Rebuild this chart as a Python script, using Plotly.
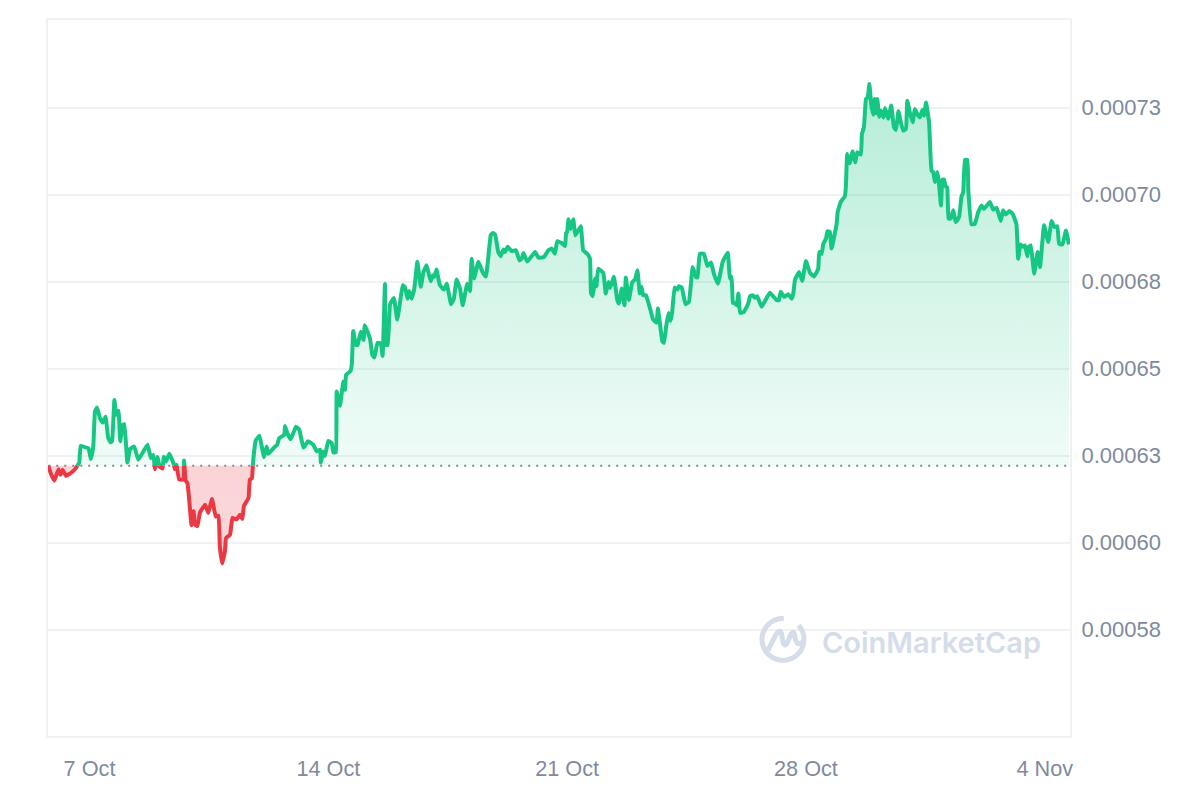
import numpy as np
import pandas as pd
import plotly.graph_objects as go

# Day of October (32 = 1 Nov) and price in millionths
days = [
    5.79, 5.86, 5.97, 6.09, 6.15, 6.21, 6.31, 6.48, 6.60, 6.70, 6.74, 6.87, 6.97, 7.04, 7.11, 7.16,
    7.22, 7.31, 7.39, 7.47, 7.55, 7.62, 7.66, 7.73, 7.78, 7.85, 7.90, 7.97, 8.02, 8.11, 8.19, 8.31,
    8.43, 8.58, 8.70, 8.80, 8.87, 8.92, 8.99, 9.05, 9.14, 9.18, 9.24, 9.34, 9.46, 9.50, 9.55, 9.63,
    9.75, 9.77, 9.82, 9.87, 9.93, 9.99, 10.05, 10.09, 10.16, 10.24, 10.39, 10.48, 10.59, 10.70,
    10.78, 10.82, 10.89, 10.97, 11.00, 11.12, 11.19, 11.31, 11.41, 11.48, 11.53, 11.66, 11.70, 11.76,
    11.80, 11.87, 11.98, 12.05, 12.11, 12.19, 12.24, 12.39, 12.50, 12.56, 12.71, 12.73, 12.80, 12.90,
    13.05, 13.15, 13.27, 13.41, 13.56, 13.66, 13.76, 13.78, 13.85, 13.90, 14.00, 14.10, 14.15, 14.22,
    14.245, 14.34, 14.44, 14.49, 14.52, 14.65, 14.69, 14.73, 14.81, 14.86, 14.95, 15.03, 15.07, 15.22,
    15.29, 15.35, 15.44, 15.54, 15.59, 15.66, 15.69, 15.74, 15.81, 15.92, 16.02, 16.10, 16.18, 16.25,
    16.32, 16.37, 16.44, 16.52, 16.61, 16.71, 16.79, 16.88, 17.00, 17.06, 17.11, 17.17, 17.27, 17.39,
    17.47, 17.60, 17.68, 17.76, 17.86, 17.94, 18.07, 18.15, 18.20, 18.27, 18.40, 18.52, 18.62, 18.76,
    18.82, 18.89, 18.98, 19.05, 19.13, 19.18, 19.26, 19.37, 19.50, 19.60, 19.67, 19.72, 19.83, 20.06,
    20.16, 20.32, 20.45, 20.55, 20.64, 20.71, 20.84, 20.94, 20.97, 21.00, 21.04, 21.10, 21.18, 21.24,
    21.40, 21.47, 21.59, 21.67, 21.70, 21.75, 21.82, 21.86, 21.91, 22.06, 22.13, 22.21, 22.26, 22.37,
    22.47, 22.52, 22.60, 22.68, 22.72, 22.81, 22.91, 22.99, 23.06, 23.13, 23.18, 23.23, 23.31, 23.43,
    23.52, 23.62, 23.66, 23.72, 23.79, 23.84, 23.90, 23.97, 24.03, 24.08, 24.15, 24.23, 24.28, 24.36,
    24.47, 24.57, 24.68, 24.78, 24.82, 24.89, 25.01, 25.11, 25.22, 25.30, 25.42, 25.56, 25.71, 25.77,
    25.82, 25.86, 25.93, 25.97, 26.02, 26.07, 26.18, 26.31, 26.36, 26.44, 26.50, 26.57, 26.70, 26.94,
    27.14, 27.21, 27.26, 27.36, 27.48, 27.58, 27.63, 27.68, 27.80, 27.89, 28.00, 28.12, 28.24, 28.36,
    28.39, 28.46, 28.51, 28.59, 28.63, 28.70, 28.75, 28.90, 28.93, 29.02, 29.14, 29.17, 29.21, 29.29,
    29.37, 29.45, 29.50, 29.61, 29.64, 29.70, 29.76, 29.81, 29.86, 29.91, 29.97, 30.01, 30.05, 30.09,
    30.15, 30.20, 30.27, 30.32, 30.41, 30.50, 30.58, 30.64, 30.71, 30.77, 30.85, 30.93, 30.97, 31.05,
    31.13, 31.19, 31.29, 31.34, 31.41, 31.46, 31.52, 31.61, 31.68, 31.73, 31.78, 31.85, 31.89, 31.96,
    32.00, 32.05, 32.09, 32.14, 32.18, 32.24, 32.32, 32.39, 32.49, 32.56, 32.61, 32.66, 32.73, 32.76,
    32.85, 32.95, 33.05, 33.15, 33.22, 33.39, 33.49, 33.59, 33.71, 33.78, 33.86, 33.96, 34.06, 34.17,
    34.22, 34.29, 34.37, 34.42, 34.49, 34.53, 34.59, 34.69, 34.79, 34.86, 34.98, 35.10, 35.20, 35.28,
    35.37, 35.42, 35.52, 35.62, 35.71,
]
price_micro = [
    622.1, 620.0, 617.8, 621.1, 619.5, 620.9, 619.2, 620.2, 621.4, 623.0, 627.8, 627.4, 627.1, 624.0, 627.6, 637.7,
    638.8, 635.7, 634.5, 636.2, 630.0, 628.8, 629.1, 641.0, 636.7, 637.9, 629.1, 633.8, 634.0, 623.0, 626.9, 627.6,
    623.8, 626.2, 628.1, 624.3, 625.2, 621.1, 624.6, 621.9, 621.3, 624.7, 623.3, 625.5, 622.8, 621.1, 622.4, 618.1,
    618.1, 623.6, 617.8, 617.1, 611.4, 605.0, 609.0, 605.2, 604.7, 608.7, 610.9, 608.5, 612.5, 607.5,
    607.7, 598.9, 594.0, 597.5, 601.3, 602.3, 607.1, 606.6, 608.0, 606.8, 610.6, 612.8, 618.1, 618.5,
    623.8, 629.3, 630.7, 627.6, 624.5, 627.6, 625.5, 627.1, 628.1, 630.0, 631.0, 633.5, 631.4, 629.7,
    633.3, 632.4, 627.3, 629.1, 628.1, 626.2, 626.7, 623.0, 626.2, 624.9, 629.2, 628.6, 625.9, 625.9,
    643.4, 639.3, 646.3, 643.9, 648.2, 649.3, 651.5, 660.8, 656.8, 656.8, 660.6, 658.2, 662.5, 658.7,
    653.9, 653.2, 657.4, 657.2, 653.6, 674.3, 656.8, 656.8, 668.5, 670.3, 664.1, 668.9, 674.0, 673.3,
    670.1, 672.3, 670.1, 673.0, 680.7, 673.5, 677.8, 679.7, 675.1, 676.8, 676.4, 678.5, 674.0, 672.7,
    674.4, 668.5, 670.1, 675.6, 673.0, 668.2, 674.4, 672.3, 681.6, 675.9, 680.7, 677.8, 676.5, 688.3,
    689.0, 688.5, 683.5, 682.3, 684.2, 683.5, 685.0, 683.8, 684.0, 681.1, 681.6, 683.2, 680.8, 683.5,
    681.9, 682.1, 684.0, 684.5, 683.0, 686.6, 686.1, 685.2, 689.0, 689.3, 692.9, 690.2, 692.9, 688.3,
    690.9, 684.0, 683.0, 681.6, 671.6, 670.8, 675.9, 673.7, 678.7, 677.5, 671.6, 674.9, 673.2, 676.4,
    669.7, 668.7, 673.0, 668.2, 676.2, 669.7, 674.9, 675.6, 678.3, 671.6, 673.5, 671.1, 671.1, 667.3,
    664.1, 663.2, 667.3, 663.0, 657.9, 657.4, 662.0, 666.0, 663.7, 666.3, 673.3, 672.7, 673.7, 673.3,
    668.5, 669.2, 679.2, 676.2, 676.2, 683.0, 683.0, 679.5, 680.5, 677.3, 674.4, 680.7, 683.3, 675.9,
    676.4, 668.9, 668.7, 668.2, 671.6, 666.0, 666.3, 668.7, 670.8, 671.1, 670.4, 670.8, 667.8, 671.8,
    669.7, 669.7, 672.1, 670.6, 671.4, 670.1, 671.6, 675.6, 677.8, 675.2, 680.9, 677.5, 676.5, 678.7,
    683.5, 683.0, 685.9, 687.4, 689.5, 689.3, 684.5, 691.6, 695.0, 697.9, 699.5, 702.2, 711.7, 709.0,
    712.5, 709.3, 712.2, 711.5, 717.4, 719.4, 727.5, 727.9, 731.8, 726.1, 723.0, 727.5, 723.4, 727.5,
    722.4, 724.1, 722.2, 724.9, 721.8, 725.6, 719.4, 718.6, 724.0, 721.3, 718.4, 718.9, 727.0, 723.4,
    720.8, 724.6, 722.7, 722.2, 724.3, 722.7, 726.5, 720.8, 706.9, 706.5, 703.6, 706.5, 704.1, 696.9,
    704.3, 704.3, 702.4, 702.1, 693.1, 693.1, 695.5, 692.1, 693.6, 699.5, 700.7, 710.0, 710.0, 701.2,
    691.5, 691.6, 695.0, 696.9, 695.9, 697.9, 695.7, 696.2, 692.4, 695.5, 694.3, 695.3, 694.5, 691.5,
    681.6, 685.7, 685.0, 685.4, 682.3, 685.0, 685.4, 677.3, 683.5, 679.2, 691.2, 686.4, 692.4, 690.7,
    690.9, 685.9, 685.7, 689.7, 685.7,
]
baseline_micro = 622.1

tick_days = [7, 14, 21, 28, 35]
tick_dates = ["7 Oct", "14 Oct", "21 Oct", "28 Oct", "4 Nov"]
price_ticks_micro = [575, 600, 625, 650, 675, 700, 725]
price_labels = ["0.00058", "0.00060", "0.00063", "0.00065", "0.00068", "0.00070", "0.00073"]

GREEN = "#16c784"
RED = "#ea3943"
GRID = "#eff2f5"
TICK_TEXT = "#808a9d"
LOGO = "#d5dde9"
FONT = "Liberation Sans"

# Plot box as seen in the window; the page body adds an 8px margin
L, R, T, B = 48, 1070, 17.5, 736
PAGE_MARGIN = 8


def to_time(d):
    return pd.Timestamp("2024-09-30") + pd.to_timedelta(np.asarray(d, dtype=float), unit="D")


def split_at_baseline(d, p, base):
    """Add a vertex wherever the price crosses the baseline, so colours change on it."""
    out_d, out_p = [d[0]], [p[0]]
    for i in range(1, len(d)):
        if (p[i - 1] - base) * (p[i] - base) < 0:
            f = (base - p[i - 1]) / (p[i] - p[i - 1])
            out_d.append(d[i - 1] + f * (d[i] - d[i - 1]))
            out_p.append(base)
        out_d.append(d[i])
        out_p.append(p[i])
    return np.array(out_d), np.array(out_p)


def paper(x, y):
    return f"{(x - L) / (R - L):.5f},{(B - y) / (B - T):.5f}"


d, p = split_at_baseline(days, price_micro, baseline_micro)
t = to_time(d)
y = p * 1e-6
base = baseline_micro * 1e-6
base_line = np.full(len(t), base)

fig = go.Figure()

# Gradient areas between price and baseline
for side, bound, scale, lo, hi in [
    (
        "up",
        np.maximum(y, base),
        [[0, "rgba(22,199,132,0.06)"], [1, "rgba(22,199,132,0.32)"]],
        622.1e-6,
        732e-6,
    ),
    (
        "down",
        np.minimum(y, base),
        [[0, "rgba(234,57,67,0.20)"], [1, "rgba(234,57,67,0.22)"]],
        594e-6,
        622.1e-6,
    ),
]:
    fig.add_trace(go.Scatter(x=t, y=base_line, mode="lines", line={"width": 0}, hoverinfo="skip"))
    fig.add_trace(
        go.Scatter(
            x=t,
            y=bound,
            mode="lines",
            line={"width": 0},
            fill="tonexty",
            fillgradient={"type": "vertical", "colorscale": scale, "start": lo, "stop": hi},
            hoverinfo="skip",
        )
    )

fig.add_trace(
    go.Scatter(
        x=t,
        y=base_line,
        mode="lines",
        line={"color": TICK_TEXT, "width": 2, "dash": "2px,6px"},
        hoverinfo="skip",
    )
)

# Price line, one trace for each side of the baseline
fig.add_trace(
    go.Scatter(
        x=t,
        y=np.where(p >= baseline_micro, y, np.nan),
        mode="lines",
        line={"color": GREEN, "width": 4, "shape": "spline", "smoothing": 0.3},
    )
)
fig.add_trace(
    go.Scatter(
        x=t,
        y=np.where(p <= baseline_micro, y, np.nan),
        mode="lines",
        line={"color": RED, "width": 4, "shape": "spline", "smoothing": 0.3},
    )
)

# Watermark logo: open ring plus the M stroke
ring = np.deg2rad(np.linspace(-42, 272, 50))
ring_path = "M" + " L".join(paper(783 + 21 * np.cos(a), 639 + 21 * np.sin(a)) for a in ring[::-1])
m_path = (
    f"M{paper(768, 650)} L{paper(776, 634)} Q{paper(781, 627)} {paper(782, 636)} "
    f"L{paper(783, 642)} Q{paper(785, 648)} {paper(788, 641)} L{paper(790, 636)} "
    f"Q{paper(794, 627)} {paper(795, 637)} Q{paper(797, 648)} {paper(804, 640)}"
)
logo_shapes = [
    {
        "type": "path",
        "path": path,
        "xref": "paper",
        "yref": "paper",
        "line": {"color": LOGO, "width": 5},
        "fillcolor": "rgba(0,0,0,0)",
    }
    for path in (ring_path, m_path)
]

fig.update_layout(
    width=1200 - PAGE_MARGIN,
    height=800 - PAGE_MARGIN,
    margin={"l": L - PAGE_MARGIN, "r": 1200 - R, "t": T - PAGE_MARGIN, "b": 800 - B, "pad": 0},
    paper_bgcolor="white",
    plot_bgcolor="white",
    showlegend=False,
    font={"family": FONT, "color": TICK_TEXT, "size": 22},
    shapes=logo_shapes,
    annotations=[
        {
            "text": "CoinMarketCap",
            "xref": "paper",
            "yref": "paper",
            "x": (820 - L) / (R - L),
            "y": (B - 642) / (B - T),
            "xanchor": "left",
            "yanchor": "middle",
            "showarrow": False,
            "font": {"family": "Inter", "size": 29, "color": LOGO, "weight": 600},
        }
    ],
    xaxis={
        "type": "date",
        "range": [to_time(5.783), to_time(35.74)],
        "tickmode": "array",
        "tickvals": to_time(tick_days),
        "ticktext": tick_dates,
        "tickfont": {"size": 21.7},
        "showgrid": False,
        "zeroline": False,
        "showline": True,
        "mirror": True,
        "linecolor": GRID,
        "linewidth": 2,
        "ticks": "outside",
        "ticklen": 12,
        "tickcolor": "rgba(0,0,0,0)",
    },
    yaxis={
        "side": "right",
        "range": [544.4e-6, 750.2e-6],
        "tickmode": "array",
        "tickvals": [v * 1e-6 for v in price_ticks_micro],
        "ticktext": price_labels,
        "showgrid": True,
        "gridcolor": GRID,
        "gridwidth": 2,
        "zeroline": False,
        "showline": True,
        "mirror": True,
        "linecolor": GRID,
        "linewidth": 2,
        "ticks": "outside",
        "ticklen": 5,
        "tickcolor": "rgba(0,0,0,0)",
    },
)

fig.write_html("out.html")
